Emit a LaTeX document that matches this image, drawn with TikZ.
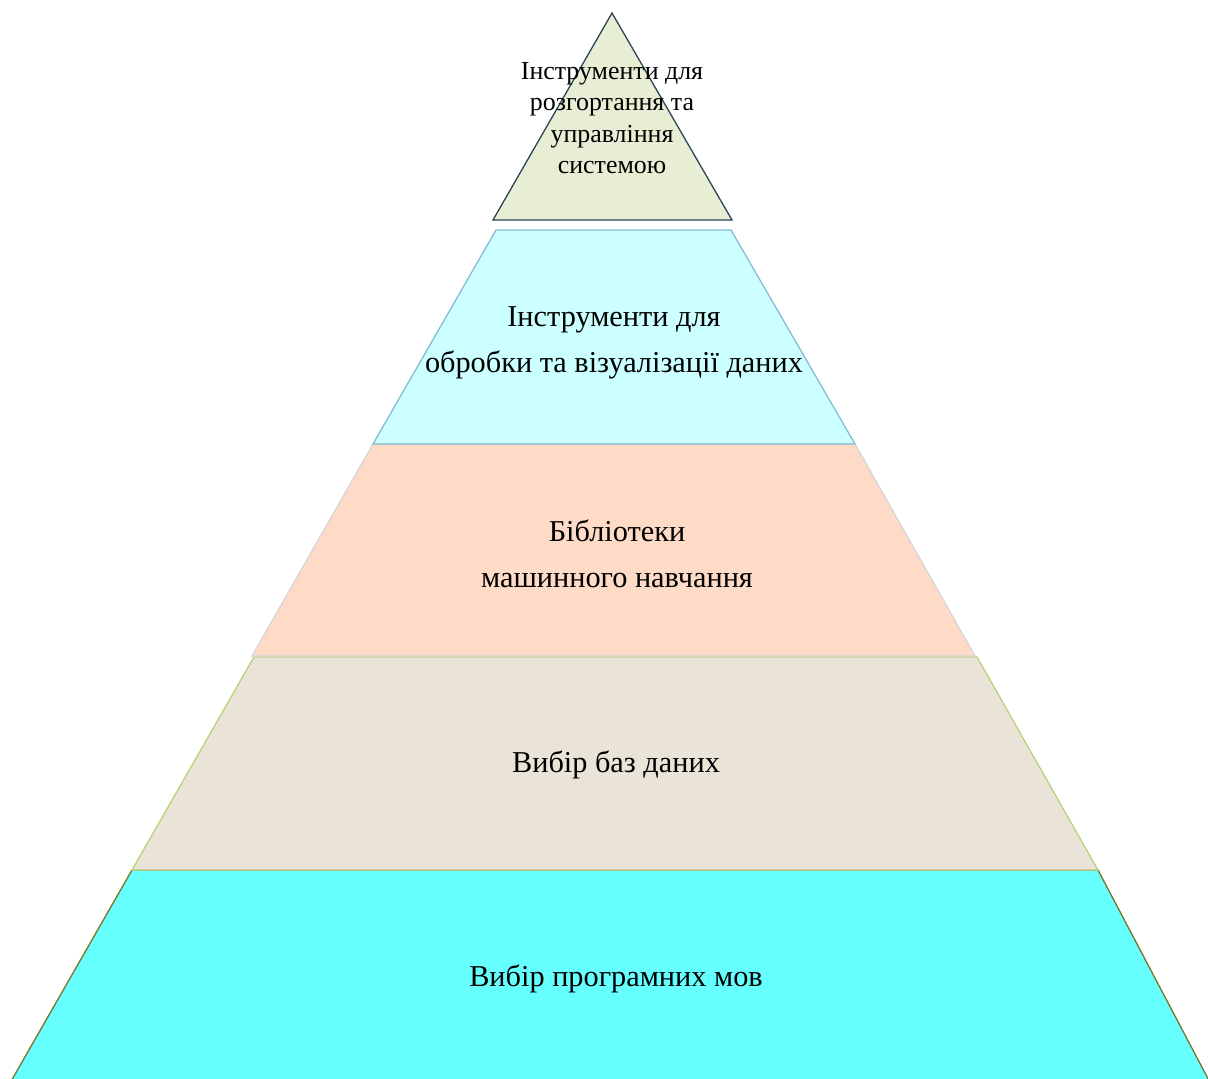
\documentclass[tikz,border=0pt]{standalone}
\usepackage{fontspec}
\setmainfont{Liberation Serif}
\begin{document}
\begin{tikzpicture}[x=1pt,y=-1pt,
  tier/.style={line width=1.3pt, line join=miter},
  bigtext/.style={align=center, inner sep=0pt, font=\fontsize{30.3}{46}\selectfont},
  toptext/.style={align=center, inner sep=0pt, font=\fontsize{25.9}{31.3}\selectfont}]
\definecolor{apexfill}{HTML}{E7EED4}
\definecolor{apexline}{HTML}{2C4454}
\definecolor{dataviz}{HTML}{CCFFFF}
\definecolor{datavizline}{HTML}{86BCD4}
\definecolor{mlfill}{HTML}{FDDBC7}
\definecolor{mlline}{HTML}{D6D6D6}
\definecolor{dbfill}{HTML}{E9E3D8}
\definecolor{dbline}{HTML}{BDD07A}
\definecolor{langfill}{HTML}{66FFFF}
\definecolor{langline}{HTML}{7A7428}
\useasboundingbox (0,0) rectangle (1208,1079);
\begin{scope}
\clip (0,0) rectangle (1208,1079);
% bottom tier first, each upper tier drawn over the one below
\draw[tier, fill=langfill, draw=langline] (132,870) -- (1098,870) -- (1214,1090) -- (6,1090) -- cycle;
\draw[tier, fill=dbfill, draw=dbline] (254,657) -- (977,657) -- (1098,870) -- (132,870) -- cycle;
\draw[tier, fill=mlfill, draw=mlline] (373,444) -- (855,444) -- (975,656) -- (252,656) -- cycle;
\draw[tier, fill=dataviz, draw=datavizline] (496,230) -- (731,230) -- (855,444) -- (373,444) -- cycle;
\draw[tier, fill=apexfill, draw=apexline] (612,13) -- (732,220) -- (493,220) -- cycle;
\end{scope}
\node[toptext] (deploy) at (612,118) {Інструменти для\\розгортання та\\управління\\системою};
\node[bigtext] (viz) at (614,343) {Інструменти для\\обробки та візуалізації даних};
\node[bigtext] (ml) at (617,554) {Бібліотеки\\машинного навчання};
\node[bigtext] (db) at (616,765) {Вибір баз даних};
\node[bigtext] (lang) at (616,979) {Вибір програмних мов};
\end{tikzpicture}
\end{document}
